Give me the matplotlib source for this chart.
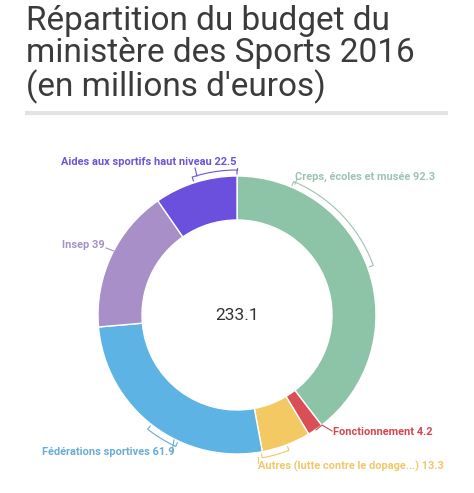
import numpy as np
import matplotlib.pyplot as plt

# data
categories = ["Creps, écoles et musée", "Fonctionnement", "Autres (lutte contre le dopage...)",
              "Fédérations sportives", "Insep", "Aides aux sportifs haut niveau"]
values = [92.3, 4.2, 13.3, 61.9, 39, 22.5]
value_labels = ["92.3", "4.2", "13.3", "61.9", "39", "22.5"]
total_label = "233.1"
title = "Répartition du budget du\nministère des Sports 2016\n(en millions d'euros)"

colors = ["#8dc4a8", "#da4f55", "#f2c962", "#5db4e4", "#a98fc7", "#6a50dc"]
text_colors = ["#9dc4b1", "#d4474f", "#f0c86a", "#68acd8", "#a592c4", "#6a55d6"]

# label layout (pixels) and bracket spans (deg clockwise from top)
label_pos = [(295, 177, "left"), (333, 432, "left"), (258, 466, "left"),
             (175, 452, "right"), (105, 245, "right"), (237, 162, "right")]
brackets = [(23, 70), None, (159, 170), (205, 218), None, (342, 360)]

W, H = 474, 493
cx, cy, R, ring = 237, 315, 139, 44

plt.rcParams['font.family'] = ['Roboto', 'DejaVu Sans']
fig = plt.figure(figsize=(W / 100, H / 100), dpi=100)
ax = fig.add_axes([0, 0, 1, 1])

ax.pie(values, colors=colors, center=(cx, cy), radius=R, startangle=-90, counterclock=True,
       wedgeprops=dict(width=ring, edgecolor="white", linewidth=1))
ax.set_xlim(0, W)
ax.set_ylim(H, 0)
ax.set_aspect("equal")
ax.axis("off")


def pt(a, r):
    t = np.radians(a - 90)
    return cx + r * np.cos(t), cy + r * np.sin(t)


# title and rule
ax.text(26, 5, title, fontsize=24, color="#3b3b3b", va="top", ha="left", linespacing=1.0)
ax.plot([25, 448], [113, 113], color="#e3e3e3", lw=3, solid_capstyle="butt")

ax.text(cx, cy, total_label, fontsize=12.5, color="#333333", ha="center", va="center")

for i, cat in enumerate(categories):
    x, y, ha = label_pos[i]
    ax.text(x, y, f"{cat} {value_labels[i]}", fontsize=7.9, color=text_colors[i],
            ha=ha, va="center", fontweight="semibold")
    br = brackets[i]
    if br is not None:
        a = np.linspace(br[0], br[1], 40)
        xs, ys = pt(a, R + 6)
        x0, y0 = pt(br[0], R + 2)
        x1, y1 = pt(br[1], R + 2)
        ax.plot(np.r_[x0, xs, x1], np.r_[y0, ys, y1], color=text_colors[i], lw=0.8)

# leader lines
ax.plot([295, 297], [184, 179], color=text_colors[0], lw=0.8)
ax.plot([197, 195], [176, 168], color=text_colors[5], lw=0.8)
ax.plot([237, 237], [168, 170], color=text_colors[5], lw=0.8)
ax.plot([174, 172], [440, 452], color=text_colors[3], lw=0.8)
ax.plot([258, 258], [457, 463], color=text_colors[2], lw=0.8)
ax.plot([106, 114], [248, 251], color=text_colors[4], lw=0.8)
ax.plot([316, 322, 327, 332], [430, 425, 428, 431], color=text_colors[1], lw=0.8)

fig.savefig("out.png", dpi=100)
